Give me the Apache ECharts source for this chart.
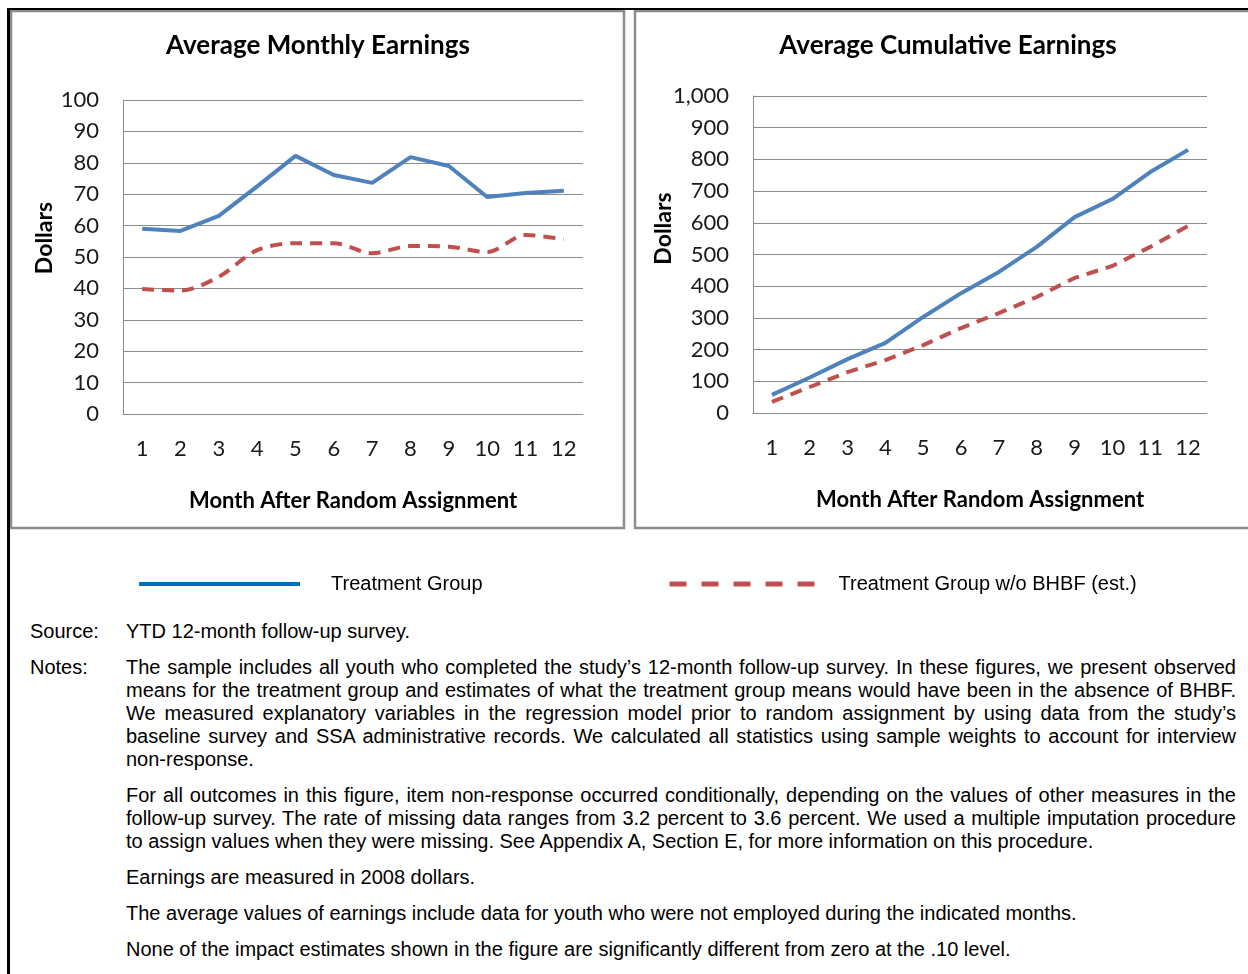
<!DOCTYPE html>
<html>
<head>
<meta charset="utf-8">
<script src="https://cdn.jsdelivr.net/npm/echarts@6/dist/echarts.min.js"></script>
<style>
  html, body { margin: 0; padding: 0; background: #fff; }
  #page { position: relative; width: 1248px; height: 974px; overflow: hidden; }
  #frameTop { position: absolute; left: 7px; top: 8px; width: 1241px; height: 2px; background: #000; }
  #frameLeft { position: absolute; left: 7px; top: 8px; width: 3px; height: 966px; background: #000; }
  #chart { position: absolute; left: 0; top: 0; width: 1248px; height: 610px; }
  #notes { position: absolute; left: 30px; top: 620px; width: 1206px;
    font-family: "Liberation Sans", Arial, sans-serif; font-size: 20px; line-height: 23px; color: #000; }
  .row { display: flex; margin-bottom: 13px; }
  .lab { width: 96px; flex: none; }
  .txt { width: 1110px; text-align: justify; }
  .txt p { margin: 0 0 13px 0; }
  .txt p:last-child { margin-bottom: 0; }
</style>
</head>
<body>
<div id="page">
  <div id="chart"></div>
  <div id="frameTop"></div>
  <div id="frameLeft"></div>
  <div id="notes">
    <div class="row"><div class="lab">Source:</div><div class="txt">YTD 12-month follow-up survey.</div></div>
    <div class="row"><div class="lab">Notes:</div><div class="txt">
      <p>The sample includes all youth who completed the study’s 12-month follow-up survey. In these figures, we present observed means for the treatment group and estimates of what the treatment group means would have been in the absence of BHBF. We measured explanatory variables in the regression model prior to random assignment by using data from the study’s baseline survey and SSA administrative records. We calculated all statistics using sample weights to account for interview non-response.</p>
      <p>For all outcomes in this figure, item non-response occurred conditionally, depending on the values of other measures in the follow-up survey. The rate of missing data ranges from 3.2 percent to 3.6 percent. We used a multiple imputation procedure to assign values when they were missing. See Appendix A, Section E, for more information on this procedure.</p>
      <p>Earnings are measured in 2008 dollars.</p>
      <p>The average values of earnings include data for youth who were not employed during the indicated months.</p>
      <p>None of the impact estimates shown in the figure are significantly different from zero at the .10 level.</p>
    </div></div>
  </div>
</div>
<script>
// data
const months = ["1", "2", "3", "4", "5", "6", "7", "8", "9", "10", "11", "12"];
const monthlyTreat = [59, 58.3, 63.1, 72.5, 82.2, 76.1, 73.6, 81.8, 79.0, 69.1, 70.4, 71.1];
const monthlyNoBHBF = [39.8, 39.3, 43.7, 52.2, 54.4, 54.4, 51.2, 53.5, 53.3, 51.6, 57.0, 55.7];
const cumTreat = [57, 112, 170, 221, 303, 378, 445, 524, 618, 675, 760, 830];
const cumNoBHBF = [35, 82, 129, 167, 214, 268, 315, 366, 426, 464, 524, 590];

const nameTreat = "Treatment Group";
const nameNo = "Treatment Group w/o BHBF (est.)";

const calibri = "Lato, 'Open Sans', sans-serif";
const arial = "'Liberation Sans', Arial, sans-serif";
const gridColor = "#8c8c8c";

function xAxisCfg(gridIndex) {
  return {
    type: "category",
    gridIndex: gridIndex,
    data: months,
    boundaryGap: true,
    axisTick: { show: false },
    axisLine: { lineStyle: { color: gridColor, width: 1 } },
    axisLabel: { color: "#1a1a1a", fontFamily: calibri, fontSize: 22, margin: 24, interval: 0 },
    name: "Month After Random Assignment",
    nameLocation: "middle",
    nameGap: 76,
    nameTextStyle: { color: "#000", fontFamily: calibri, fontSize: 22, fontWeight: "bold" }
  };
}

function yAxisCfg(gridIndex, max, interval, gap, lift, fmt) {
  return {
    type: "value",
    gridIndex: gridIndex,
    min: 0,
    max: max,
    interval: interval,
    axisLine: { show: true, lineStyle: { color: gridColor, width: 1 } },
    axisTick: { show: false },
    splitLine: { lineStyle: { color: gridColor, width: 1 } },
    axisLabel: { color: "#1a1a1a", fontFamily: calibri, fontSize: 22, margin: 24, formatter: fmt },
    name: "Dollars",
    nameLocation: "middle",
    nameRotate: 90,
    nameGap: gap,
    nameMoveOverlap: false,
    nameTextStyle: { color: "#000", fontFamily: calibri, fontSize: 23, fontWeight: "bold", padding: [0, 0, 0, lift] }
  };
}

const myChart = echarts.init(document.getElementById("chart"), null, { renderer: "canvas" });

const option = {
  animation: false,
  title: [
    { text: "Average Monthly Earnings", left: 313, top: 28, textAlign: "center",
      textStyle: { fontFamily: calibri, fontSize: 26, fontWeight: "bold", color: "#000" } },
    { text: "Average Cumulative Earnings", left: 943, top: 28, textAlign: "center",
      textStyle: { fontFamily: calibri, fontSize: 26, fontWeight: "bold", color: "#000" } }
  ],
  graphic: [
    { type: "rect", shape: { x: 11, y: 11, width: 613, height: 517 },
      style: { fill: "none", stroke: "#8c8c8c", lineWidth: 2.5 }, silent: true },
    { type: "rect", shape: { x: 635, y: 11, width: 640, height: 517 },
      style: { fill: "none", stroke: "#8c8c8c", lineWidth: 2.5 }, silent: true }
  ],
  legend: [
    { data: [nameTreat], left: 137, top: 574, padding: 0, itemWidth: 161, itemHeight: 14, selectedMode: false,
      itemStyle: { opacity: 0 },
      lineStyle: { color: "#0070C0", width: 4, type: "solid" },
      textStyle: { fontFamily: arial, fontSize: 20, color: "#000", padding: [12, 0, 0, 26] } },
    { data: [nameNo], left: 667, top: 574, padding: 0, itemWidth: 150, itemHeight: 14, selectedMode: false,
      itemStyle: { opacity: 0 },
      lineStyle: { color: "#C0504D", width: 5, type: [17, 15] },
      textStyle: { fontFamily: arial, fontSize: 20, color: "#000", padding: [12, 0, 0, 14] } }
  ],
  grid: [
    { left: 123, top: 100, width: 460, height: 314 },
    { left: 753, top: 96, width: 454, height: 317 }
  ],
  xAxis: [xAxisCfg(0), xAxisCfg(1)],
  yAxis: [
    yAxisCfg(0, 100, 10, 67, 38, null),
    yAxisCfg(1, 1000, 100, 78, 52, function (v) { return v.toLocaleString("en-US"); })
  ],
  series: [
    { name: nameTreat, type: "line", xAxisIndex: 0, yAxisIndex: 0, data: monthlyTreat,
      symbol: "none", lineStyle: { color: "#4F81BD", width: 4 }, itemStyle: { color: "#4F81BD" } },
    { name: nameNo, type: "line", xAxisIndex: 0, yAxisIndex: 0, data: monthlyNoBHBF, smooth: 0.3,
      symbol: "none", lineStyle: { color: "#C0504D", width: 4, type: [12, 8] }, itemStyle: { color: "#C0504D" } },
    { name: nameTreat, type: "line", xAxisIndex: 1, yAxisIndex: 1, data: cumTreat,
      symbol: "none", lineStyle: { color: "#4F81BD", width: 4 }, itemStyle: { color: "#4F81BD" } },
    { name: nameNo, type: "line", xAxisIndex: 1, yAxisIndex: 1, data: cumNoBHBF,
      symbol: "none", lineStyle: { color: "#C0504D", width: 4, type: [12, 8] }, itemStyle: { color: "#C0504D" } }
  ]
};

myChart.setOption(option);
</script>
</body>
</html>
